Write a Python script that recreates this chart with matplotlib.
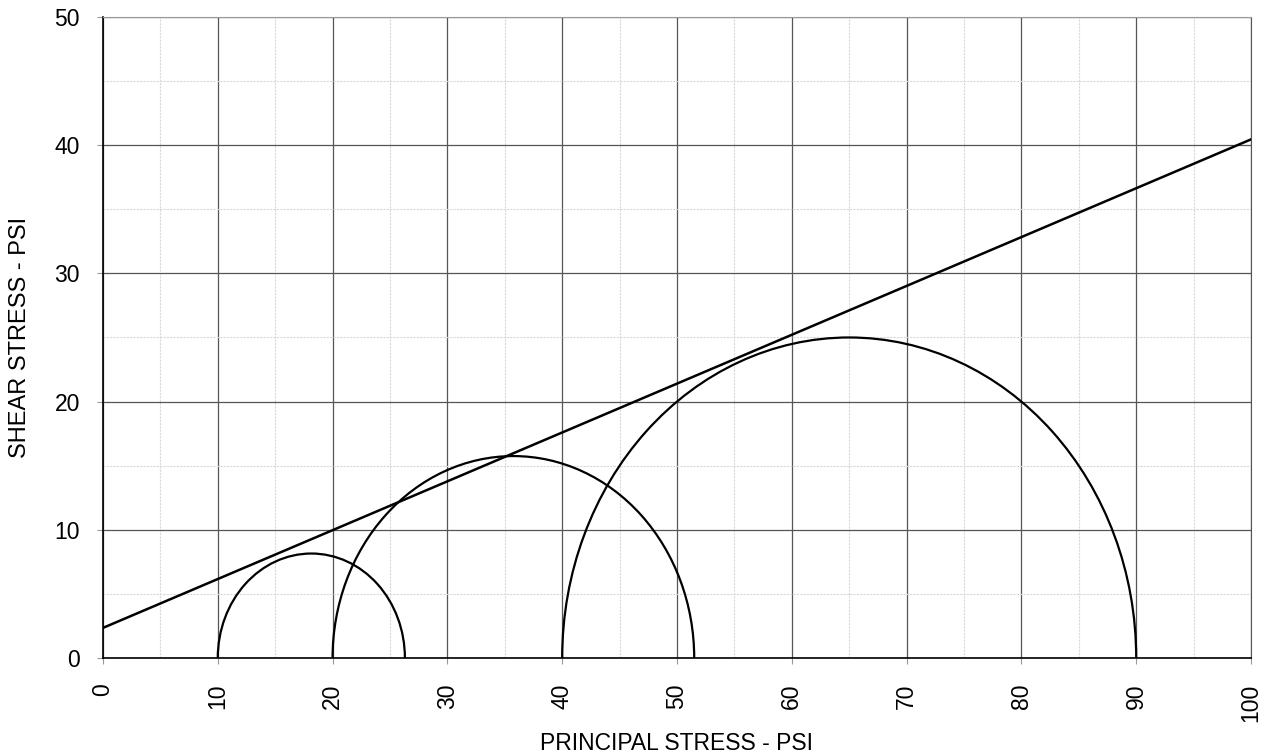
import matplotlib
matplotlib.use('Agg')
import matplotlib.pyplot as plt
from matplotlib.patches import Arc
from matplotlib.ticker import MultipleLocator

plt.rcParams['font.family'] = ['Liberation Sans', 'DejaVu Sans']

# Mohr circles: principal stresses (sigma3, sigma1)
sigma3 = [10.0, 20.0, 40.0]
sigma1 = [26.3, 51.5, 90.0]

# failure envelope end points
env_x = [0.0, 100.0]
env_y = [2.35, 40.45]

fig = plt.figure(figsize=(12.68, 7.56), dpi=100)
ax = fig.add_axes([0.0812, 0.1296, 0.9054, 0.848])

for s3, s1 in zip(sigma3, sigma1):
    c = (s3 + s1) / 2
    d = s1 - s3
    ax.add_patch(Arc((c, 0), d, d, theta1=0, theta2=180, color='black', lw=1.6, zorder=3))

ax.plot(env_x, env_y, color='black', lw=1.8, zorder=3)

ax.set_xlim(0, 100)
ax.set_ylim(0, 50)
ax.xaxis.set_major_locator(MultipleLocator(10))
ax.xaxis.set_minor_locator(MultipleLocator(5))
ax.yaxis.set_major_locator(MultipleLocator(10))
ax.yaxis.set_minor_locator(MultipleLocator(5))

ax.grid(which='major', color='#555555', lw=0.9)
ax.grid(which='minor', color='#d8d8d8', lw=0.8, ls=(0, (2, 1)))
ax.set_axisbelow(True)

ax.spines['top'].set_color('#999999')
ax.spines['right'].set_color('#555555')
for s in ['left', 'bottom']:
    ax.spines[s].set_color('black')
    ax.spines[s].set_linewidth(1.2)

ax.tick_params(which='major', direction='out', length=4.5, color='#999999', labelsize=16.5)
ax.tick_params(which='minor', length=0)
ax.tick_params(axis='x', labelrotation=90, pad=14)
ax.tick_params(axis='y', pad=12)

ax.set_xlabel('PRINCIPAL STRESS - PSI', fontsize=16.5, labelpad=7)
ax.set_ylabel('SHEAR STRESS - PSI', fontsize=17, labelpad=17)

fig.savefig('out.png', dpi=100)
